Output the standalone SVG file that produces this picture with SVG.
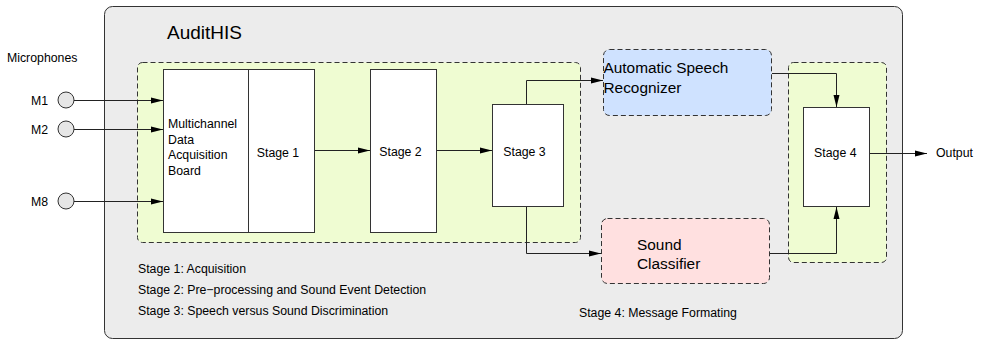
<svg xmlns="http://www.w3.org/2000/svg" width="983" height="341" viewBox="0 0 983 341">
<defs>
<style>
text{font-family:"Liberation Sans",Arial,sans-serif;fill:#000}
.s12{font-size:12.3px}
.s15{font-size:15.4px}
.box{fill:#fff;stroke:#333;stroke-width:1}
.grp{fill:#effcd2;stroke:#333;stroke-width:1;stroke-dasharray:5,3}
.ln{fill:none;stroke:#222;stroke-width:1}
.mic{fill:#e6e6e6;stroke:#333;stroke-width:1}
</style>
<marker id="ah" markerWidth="12" markerHeight="8" refX="12" refY="4" orient="auto" markerUnits="userSpaceOnUse">
<path d="M0,1 L12,4 L0,7 Z" fill="#000"/>
</marker>
</defs>
<rect width="983" height="341" fill="#fff"/>
<g id="audithis">
<rect x="104.5" y="6.5" width="798" height="332" rx="8" fill="#ececec" stroke="#333"/>
<text x="167" y="39" style="font-size:19px">AuditHIS</text>
</g>
<g id="group-stages123"><rect class="grp" x="137.5" y="62.5" width="443" height="180" rx="5"/></g>
<g id="group-stage4"><rect class="grp" x="788.5" y="62.5" width="98" height="200" rx="5"/></g>
<text x="7" y="62" class="s12">Microphones</text>
<g id="m1"><circle class="mic" cx="66" cy="100" r="8"/><text x="48" y="104.5" class="s12" text-anchor="end">M1</text></g>
<g id="m2"><circle class="mic" cx="66" cy="129" r="8"/><text x="48" y="133.5" class="s12" text-anchor="end">M2</text></g>
<g id="m8"><circle class="mic" cx="66" cy="201" r="8"/><text x="48" y="205.5" class="s12" text-anchor="end">M8</text></g>
<g id="board"><rect class="box" x="163.5" y="69.5" width="85" height="163"/>
<text class="s12"><tspan x="168" y="128.3">Multichannel</tspan><tspan x="168" y="143.8">Data</tspan><tspan x="168" y="159.3">Acquisition</tspan><tspan x="168" y="175">Board</tspan></text></g>
<g id="stage1"><rect class="box" x="248.5" y="69.5" width="66" height="163"/><text x="278" y="157" class="s12" text-anchor="middle">Stage 1</text></g>
<g id="stage2"><rect class="box" x="370.5" y="69.5" width="66" height="163"/><text x="400.5" y="156" class="s12" text-anchor="middle">Stage 2</text></g>
<g id="stage3"><rect class="box" x="492.5" y="104.5" width="71" height="102"/><text x="524.5" y="156" class="s12" text-anchor="middle">Stage 3</text></g>
<g id="asr"><rect x="603.5" y="49.5" width="168" height="66" rx="6" fill="#cfe2ff" stroke="#333" stroke-dasharray="5,3"/>
<text class="s15"><tspan x="603.5" y="73.3">Automatic Speech</tspan><tspan x="603.5" y="92.7">Recognizer</tspan></text></g>
<g id="sound"><rect x="601.5" y="218.5" width="168" height="65" rx="6" fill="#ffe0e0" stroke="#333" stroke-dasharray="5,3"/>
<text class="s15"><tspan x="637" y="250">Sound</tspan><tspan x="637" y="269.3">Classifier</tspan></text></g>
<g id="stage4"><rect class="box" x="803.5" y="107.5" width="66" height="99"/><text x="835.3" y="157.3" class="s12" text-anchor="middle">Stage 4</text></g>
<g id="connectors">
<path class="ln" d="M74,100.5 H163" marker-end="url(#ah)"/>
<path class="ln" d="M74,129.5 H163" marker-end="url(#ah)"/>
<path class="ln" d="M74,201.5 H163" marker-end="url(#ah)"/>
<path class="ln" d="M315,150.5 H370" marker-end="url(#ah)"/>
<path class="ln" d="M437,150.5 H492" marker-end="url(#ah)"/>
<path class="ln" d="M526.5,104 V80.5 H603" marker-end="url(#ah)"/>
<path class="ln" d="M526.5,207 V253.5 H601" marker-end="url(#ah)"/>
<path class="ln" d="M772,73.5 H836.5 V107" marker-end="url(#ah)"/>
<path class="ln" d="M770,253.5 H836.5 V207" marker-end="url(#ah)"/>
<path class="ln" d="M870,153.5 H927" marker-end="url(#ah)"/>
</g>
<text x="936" y="157.3" class="s12">Output</text>
<text x="138" y="273.3" class="s12">Stage 1: Acquisition</text>
<text x="138" y="294.3" class="s12">Stage 2: Pre−processing and Sound Event Detection</text>
<text x="138" y="315.3" class="s12">Stage 3: Speech versus Sound Discrimination</text>
<text x="579" y="317" class="s12">Stage 4: Message Formating</text>
</svg>
